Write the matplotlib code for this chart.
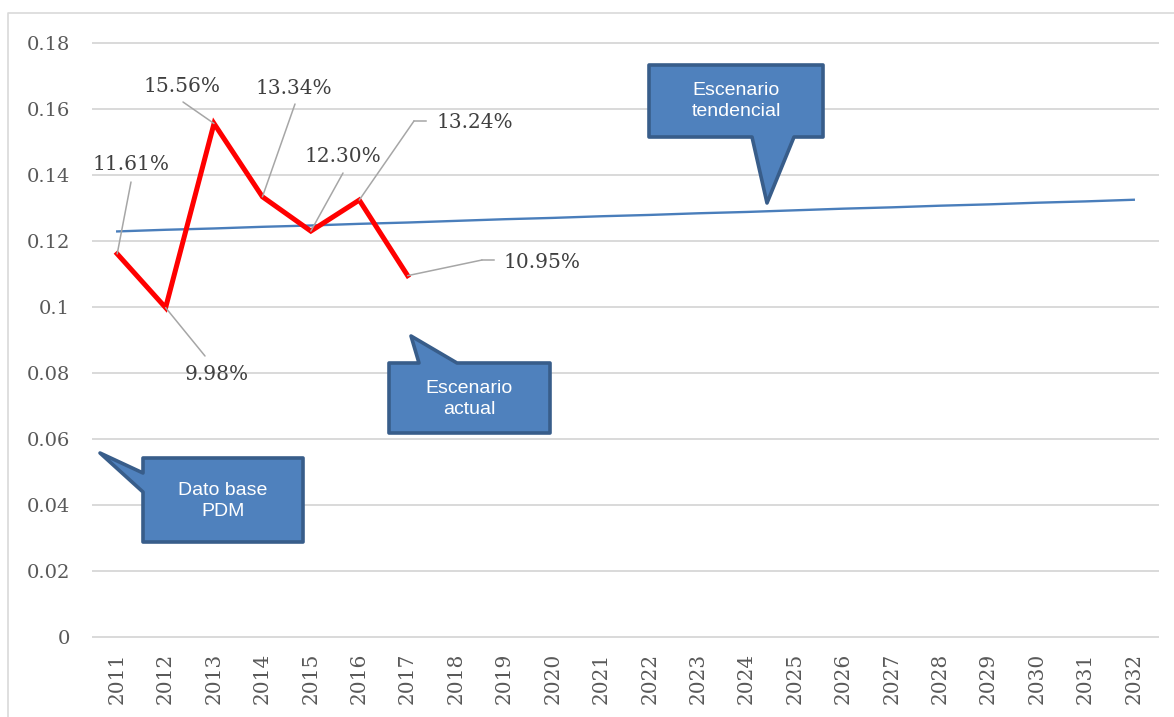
import numpy as np
import matplotlib.pyplot as plt
from matplotlib.patches import Polygon
from matplotlib.lines import Line2D

# datos
years = [str(y) for y in range(2011, 2033)]
actual = [0.1161, 0.0998, 0.1556, 0.1334, 0.1230, 0.1324, 0.1095]
trend = [0.1229, 0.1234, 0.1238, 0.1243, 0.1247, 0.1252, 0.1256, 0.1261,
         0.1266, 0.1270, 0.1275, 0.1279, 0.1284, 0.1288, 0.1293, 0.1298,
         0.1302, 0.1307, 0.1311, 0.1316, 0.1320, 0.1325]
yticks = [0, 0.02, 0.04, 0.06, 0.08, 0.1, 0.12, 0.14, 0.16, 0.18]
ytick_labels = ["0", "0.02", "0.04", "0.06", "0.08", "0.1", "0.12", "0.14", "0.16", "0.18"]
labels = [f"{v:.2%}" for v in actual]

# posiciones de etiquetas (pixeles de figura, origen arriba-izquierda)
label_pos = [(131, 165), (217, 375), (182, 86), (294, 88), (343, 157), (475, 123), (542, 263)]
leader_end = [(131, 182), (205, 356), (183, 102), (295, 104), (343, 173), (414, 121), (482, 260)]
leader_tail = {5: 426, 6: 494}

W, H = 1174, 717
plt.rcParams['font.family'] = 'DejaVu Serif'
fig = plt.figure(figsize=(W / 100, H / 100), dpi=100)


def fp(x, y):
    return (x / W, 1 - y / H)


# borde exterior
fig.add_artist(Line2D([8 / W, 8 / W, 1], [0, 1 - 13 / H, 1 - 13 / H],
                      transform=fig.transFigure, color='#D9D9D9', lw=1.2))

ax = fig.add_axes([93 / W, 1 - 637 / H, (1158 - 93) / W, (637 - 43) / H])
x = np.arange(len(years))
ax.plot(x, trend, color='#4A7EBB', lw=1.7, zorder=2)
ax.plot(x[:len(actual)], actual, color='#FF0000', lw=3.6, zorder=3, solid_joinstyle='miter')
ax.set_xlim(-0.5, len(years) - 0.5)
ax.set_ylim(0, 0.18)
ax.set_yticks(yticks)
ax.set_yticklabels(ytick_labels)
ax.set_xticks(x)
ax.set_xticklabels(years, rotation=90)
ax.grid(axis='y', color='#D9D9D9', lw=1.4)
ax.set_axisbelow(True)
for s in ax.spines.values():
    s.set_visible(False)
ax.tick_params(axis='y', length=0, colors='#595959', labelsize=14, pad=16.5)
ax.tick_params(axis='x', length=0, colors='#595959', labelsize=14.5, pad=11.5)
for gl in ax.get_ygridlines():
    gl.set_clip_on(False)

# etiquetas de datos con lineas guia
for i, v in enumerate(actual):
    ex, ey = leader_end[i]
    ax.annotate('', xy=(i, v), xytext=(ex, H - ey), textcoords='figure pixels',
                arrowprops=dict(arrowstyle='-', color='#A6A6A6', lw=1.1,
                                shrinkA=0, shrinkB=0), zorder=4)
    if i in leader_tail:
        fig.add_artist(Line2D([ex / W, leader_tail[i] / W], [1 - ey / H] * 2,
                              transform=fig.transFigure, color='#A6A6A6', lw=1.1))
    cx, cy = label_pos[i]
    fig.text(*fp(cx, cy), labels[i], ha='center', va='center',
             fontsize=14.5, color='#404040')

# llamadas
callouts = [
    ("Escenario\nactual",
     [(389, 363), (419, 363), (411, 336), (457, 363), (550, 363), (550, 433), (389, 433)],
     (469, 399)),
    ("Dato base\nPDM",
     [(143, 458), (303, 458), (303, 542), (143, 542), (143, 492), (100, 453), (143, 473)],
     (223, 501)),
    ("Escenario\ntendencial",
     [(649, 65), (823, 65), (823, 137), (794, 137), (767, 203), (752, 137), (649, 137)],
     (736, 101)),
]
for text, pts, center in callouts:
    poly = Polygon([fp(px, py) for px, py in pts], closed=True,
                   transform=fig.transFigure, facecolor='#4F81BD',
                   edgecolor='#385D8A', lw=2.6, joinstyle='round')
    fig.add_artist(poly)
    fig.text(*fp(*center), text, ha='center', va='center', color='white',
             fontsize=14, family='Liberation Sans', linespacing=1.35)

fig.savefig('out.png', dpi=100)
